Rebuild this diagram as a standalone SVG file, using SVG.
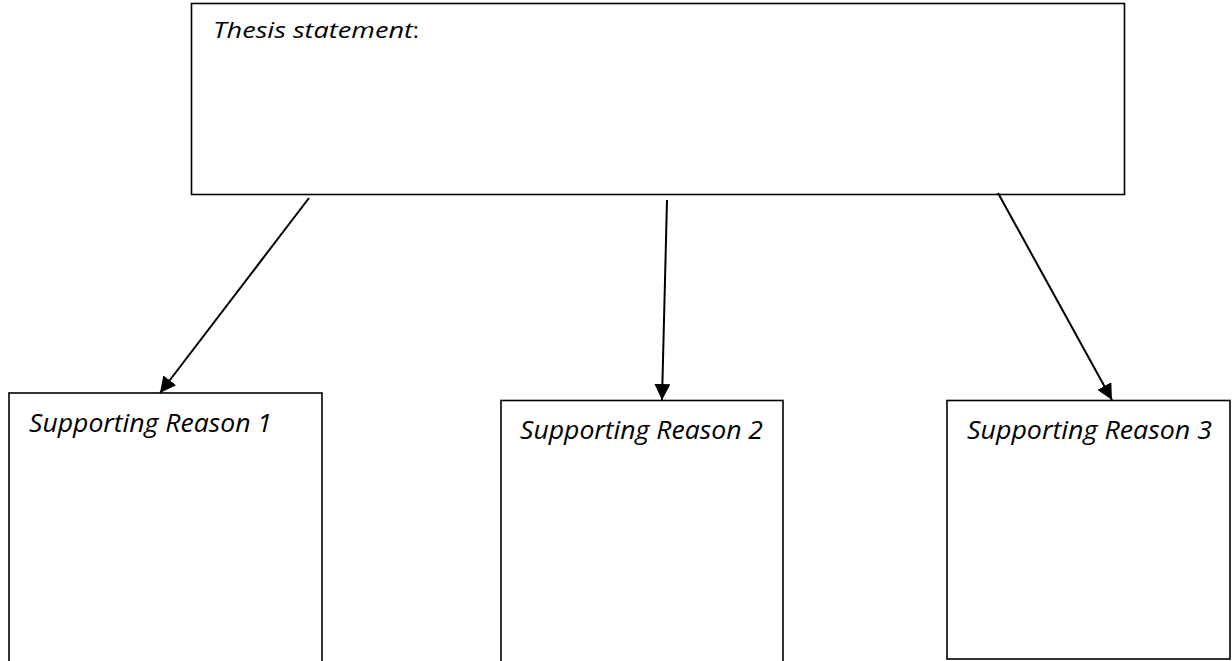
<svg xmlns="http://www.w3.org/2000/svg" width="1232" height="661" viewBox="0 0 1232 661">
<style>
.box{fill:#fff;stroke:#000;stroke-width:1.6}
.lbl{font-family:"Open Sans","Liberation Sans",sans-serif;font-style:italic;fill:#000}
.conn{stroke:#000;stroke-width:2;fill:none}
</style>
<defs>
<marker id="ah" markerUnits="userSpaceOnUse" markerWidth="16" markerHeight="16" viewBox="0 0 14 14" refX="14" refY="7" orient="auto">
<path d="M0,0 L14,7 L0,14 Z" fill="#000"/>
</marker>
</defs>
<rect width="1232" height="661" fill="#fff"/>
<g id="thesis">
<rect class="box" x="191.5" y="3.5" width="933" height="191"/>
<text class="lbl" x="213" y="38" font-size="21.5"><tspan textLength="200" lengthAdjust="spacingAndGlyphs">Thesis statement</tspan><tspan font-style="normal">:</tspan></text>
</g>
<g id="reason1">
<rect class="box" x="9" y="393" width="313" height="280"/>
<text class="lbl" x="29" y="432" font-size="25" textLength="243" lengthAdjust="spacingAndGlyphs">Supporting Reason 1</text>
</g>
<g id="reason2">
<rect class="box" x="501" y="400.5" width="282" height="280"/>
<text class="lbl" x="520" y="439" font-size="25" textLength="243" lengthAdjust="spacingAndGlyphs">Supporting Reason 2</text>
</g>
<g id="reason3">
<rect class="box" x="947" y="400.5" width="283" height="258.5"/>
<text class="lbl" x="967" y="439" font-size="25" textLength="245" lengthAdjust="spacingAndGlyphs">Supporting Reason 3</text>
</g>
<g id="connectors">
<line class="conn" x1="309" y1="198" x2="160" y2="393" marker-end="url(#ah)"/>
<line class="conn" x1="667" y1="200" x2="662" y2="400" marker-end="url(#ah)"/>
<line class="conn" x1="998" y1="193" x2="1112" y2="400" marker-end="url(#ah)"/>
</g>
</svg>
